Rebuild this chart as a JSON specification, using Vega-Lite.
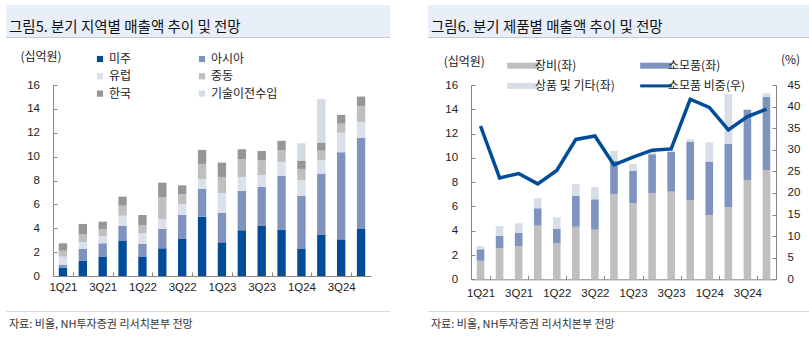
{
  "$schema": "https://vega.github.io/schema/vega-lite/v6.json",
  "background": "white",
  "padding": {"left": 6, "top": 5, "right": 0, "bottom": 0},
  "spacing": 38,
  "resolve": {"scale": {"color": "independent", "x": "independent", "y": "independent"}, "legend": {"color": "independent"}},
  "config": {
    "view": {"stroke": null},
    "font": "Noto Sans CJK KR",
    "title": {"font": "Noto Sans CJK KR", "fontWeight": "normal", "fontSize": 14.5, "color": "#111111"},
    "axis": {"labelFont": "Liberation Sans", "labelFontSize": 11.5, "labelColor": "#222222", "titleFont": "Noto Sans CJK KR", "titleFontSize": 12, "titleFontWeight": "normal", "titleColor": "#222222", "domainColor": "#868686", "tickColor": "#868686", "grid": false},
    "legend": {"labelFont": "Noto Sans CJK KR", "labelFontSize": 12, "labelColor": "#222222", "padding": 0}
  },
  "hconcat": [
    {
      "spacing": 0,
      "bounds": "flush",
      "vconcat": [
        {"width": 384, "height": 32, "data": {"values": [{}]}, "mark": {"type": "rect", "opacity": 0}, "view": {"fill": "#E9EFF8", "stroke": null},
         "title": {"text": "그림5. 분기 지역별 매출액 추이 및 전망", "anchor": "start", "orient": "top", "baseline": "middle", "offset": -37, "dx": 3}},
        {"width": 384, "height": 1, "data": {"values": [{}]}, "mark": {"type": "rect", "opacity": 0}, "view": {"fill": "#C8C8C8", "stroke": null}},
        {
          "width": 384, "height": 273,
          "data": {"values": [
            {"q":"1Q21","r":"미주","n":1,"v":0.70},{"q":"1Q21","r":"아시아","n":2,"v":0.22},{"q":"1Q21","r":"유럽","n":3,"v":0.70},{"q":"1Q21","r":"중동","n":4,"v":0.50},{"q":"1Q21","r":"한국","n":5,"v":0.62},
            {"q":"2Q21","r":"미주","n":1,"v":1.28},{"q":"2Q21","r":"아시아","n":2,"v":0.98},{"q":"2Q21","r":"유럽","n":3,"v":0.59},{"q":"2Q21","r":"중동","n":4,"v":0.67},{"q":"2Q21","r":"한국","n":5,"v":0.84},
            {"q":"3Q21","r":"미주","n":1,"v":1.59},{"q":"3Q21","r":"아시아","n":2,"v":1.15},{"q":"3Q21","r":"유럽","n":3,"v":0.61},{"q":"3Q21","r":"중동","n":4,"v":0.56},{"q":"3Q21","r":"한국","n":5,"v":0.64},
            {"q":"4Q21","r":"미주","n":1,"v":2.93},{"q":"4Q21","r":"아시아","n":2,"v":1.26},{"q":"4Q21","r":"유럽","n":3,"v":0.87},{"q":"4Q21","r":"중동","n":4,"v":0.84},{"q":"4Q21","r":"한국","n":5,"v":0.75},
            {"q":"1Q22","r":"미주","n":1,"v":1.59},{"q":"1Q22","r":"아시아","n":2,"v":1.09},{"q":"1Q22","r":"유럽","n":3,"v":0.90},{"q":"1Q22","r":"중동","n":4,"v":0.69},{"q":"1Q22","r":"한국","n":5,"v":0.84},
            {"q":"2Q22","r":"미주","n":1,"v":2.32},{"q":"2Q22","r":"아시아","n":2,"v":1.62},{"q":"2Q22","r":"유럽","n":3,"v":0.84},{"q":"2Q22","r":"중동","n":4,"v":1.84},{"q":"2Q22","r":"한국","n":5,"v":1.20},
            {"q":"3Q22","r":"미주","n":1,"v":3.10},{"q":"3Q22","r":"아시아","n":2,"v":2.01},{"q":"3Q22","r":"유럽","n":3,"v":0.92},{"q":"3Q22","r":"중동","n":4,"v":0.84},{"q":"3Q22","r":"한국","n":5,"v":0.73},
            {"q":"4Q22","r":"미주","n":1,"v":4.97},{"q":"4Q22","r":"아시아","n":2,"v":2.35},{"q":"4Q22","r":"유럽","n":3,"v":0.81},{"q":"4Q22","r":"중동","n":4,"v":1.26},{"q":"4Q22","r":"한국","n":5,"v":1.17},
            {"q":"1Q23","r":"미주","n":1,"v":2.82},{"q":"1Q23","r":"아시아","n":2,"v":2.49},{"q":"1Q23","r":"유럽","n":3,"v":1.65},{"q":"1Q23","r":"중동","n":4,"v":1.34},{"q":"1Q23","r":"한국","n":5,"v":1.20},
            {"q":"2Q23","r":"미주","n":1,"v":3.83},{"q":"2Q23","r":"아시아","n":2,"v":3.29},{"q":"2Q23","r":"유럽","n":3,"v":1.18},{"q":"2Q23","r":"중동","n":4,"v":1.48},{"q":"2Q23","r":"한국","n":5,"v":0.84},
            {"q":"3Q23","r":"미주","n":1,"v":4.19},{"q":"3Q23","r":"아시아","n":2,"v":3.27},{"q":"3Q23","r":"유럽","n":3,"v":1.01},{"q":"3Q23","r":"중동","n":4,"v":1.23},{"q":"3Q23","r":"한국","n":5,"v":0.78},
            {"q":"4Q23","r":"미주","n":1,"v":3.86},{"q":"4Q23","r":"아시아","n":2,"v":4.52},{"q":"4Q23","r":"유럽","n":3,"v":1.18},{"q":"4Q23","r":"중동","n":4,"v":0.97},{"q":"4Q23","r":"한국","n":5,"v":0.79},
            {"q":"1Q24","r":"미주","n":1,"v":2.26},{"q":"1Q24","r":"아시아","n":2,"v":4.45},{"q":"1Q24","r":"유럽","n":3,"v":1.31},{"q":"1Q24","r":"중동","n":4,"v":0.95},{"q":"1Q24","r":"한국","n":5,"v":0.70},{"q":"1Q24","r":"기술이전수입","n":6,"v":1.45},
            {"q":"2Q24","r":"미주","n":1,"v":3.44},{"q":"2Q24","r":"아시아","n":2,"v":5.14},{"q":"2Q24","r":"유럽","n":3,"v":1.14},{"q":"2Q24","r":"중동","n":4,"v":0.78},{"q":"2Q24","r":"한국","n":5,"v":0.68},{"q":"2Q24","r":"기술이전수입","n":6,"v":3.63},
            {"q":"3Q24","r":"미주","n":1,"v":3.07},{"q":"3Q24","r":"아시아","n":2,"v":7.30},{"q":"3Q24","r":"유럽","n":3,"v":1.64},{"q":"3Q24","r":"중동","n":4,"v":0.76},{"q":"3Q24","r":"한국","n":5,"v":0.73},
            {"q":"4Q24","r":"미주","n":1,"v":3.94},{"q":"4Q24","r":"아시아","n":2,"v":7.65},{"q":"4Q24","r":"유럽","n":3,"v":1.32},{"q":"4Q24","r":"중동","n":4,"v":1.34},{"q":"4Q24","r":"한국","n":5,"v":0.78}
          ]},
          "mark": {"type": "bar"},
          "encoding": {
            "x": {"field": "q", "type": "ordinal", "sort": null,
                  "scale": {"range": [47, 365], "paddingInner": 0.58, "paddingOuter": 0.29},
                  "axis": {"title": null, "orient": "bottom", "offset": -35, "values": ["1Q21","3Q21","1Q22","3Q22","1Q23","3Q23","1Q24","3Q24"], "labelAngle": 0, "tickSize": -4, "tickOffset": 9.94, "labelOffset": -9.94, "labelPadding": 9}},
            "y": {"field": "v", "type": "quantitative", "stack": "zero",
                  "scale": {"domain": [0, 16], "range": [238, 47], "nice": false, "zero": true},
                  "axis": {"orient": "left", "offset": -47, "values": [0,2,4,6,8,10,12,14,16], "tickSize": -4, "labelPadding": 17.5,
                           "title": "(십억원)", "titleAngle": 0, "titleAlign": "center", "titleBaseline": "middle", "titleX": -12.5, "titleY": 18.7}},
            "order": {"field": "n", "type": "quantitative", "sort": "ascending"},
            "color": {"field": "r", "type": "nominal", "sort": ["미주","아시아","유럽","중동","한국","기술이전수입"],
                      "scale": {"domain": ["미주","아시아","유럽","중동","한국","기술이전수입"], "range": ["#004C99","#7F93BF","#DBE1EA","#BFBFBF","#969696","#D3DBE6"]},
                      "legend": {"title": null, "orient": "none", "direction": "horizontal", "legendX": 88, "legendY": 48, "columns": 2, "columnPadding": 64, "rowPadding": 5.3, "symbolType": "square", "symbolSize": 38, "labelOffset": 3}}
          }
        },
        {"width": 384, "height": 1, "data": {"values": [{}]}, "mark": {"type": "rect", "opacity": 0}, "view": {"fill": "#D9D9D9", "stroke": null},
         "title": {"text": "자료: 비올, NH투자증권 리서치본부 전망", "anchor": "start", "orient": "bottom", "baseline": "middle", "offset": 13, "dx": 3, "fontSize": 11, "color": "#333333"}}
      ]
    },
    {
      "spacing": 0,
      "bounds": "flush",
      "vconcat": [
        {"width": 381, "height": 32, "data": {"values": [{}]}, "mark": {"type": "rect", "opacity": 0}, "view": {"fill": "#E9EFF8", "stroke": null},
         "title": {"text": "그림6. 분기 제품별 매출액 추이 및 전망", "anchor": "start", "orient": "top", "baseline": "middle", "offset": -37, "dx": 3}},
        {"width": 381, "height": 1, "data": {"values": [{}]}, "mark": {"type": "rect", "opacity": 0}, "view": {"fill": "#C8C8C8", "stroke": null}},
        {
          "width": 381, "height": 273,
          "encoding": {
            "x": {"field": "q", "type": "ordinal", "sort": null,
                  "scale": {"range": [43, 348], "paddingInner": 0.6, "paddingOuter": 0.3},
                  "axis": {"title": null, "orient": "bottom", "offset": -31.7, "values": ["1Q21","3Q21","1Q22","3Q22","1Q23","3Q23","1Q24","3Q24"], "labelAngle": 0, "tickSize": -4, "tickOffset": 9.53, "labelOffset": -9.53, "labelPadding": 12}}
          },
          "layer": [
            {
              "data": {"values": [
                {"q":"1Q21","k":"장비(좌)","v":1.53},{"q":"1Q21","k":"소모품(좌)","v":0.94},{"q":"1Q21","k":"상품 및 기타(좌)","v":0.27},
                {"q":"2Q21","k":"장비(좌)","v":2.58},{"q":"2Q21","k":"소모품(좌)","v":1.01},{"q":"2Q21","k":"상품 및 기타(좌)","v":0.80},
                {"q":"3Q21","k":"장비(좌)","v":2.74},{"q":"3Q21","k":"소모품(좌)","v":1.10},{"q":"3Q21","k":"상품 및 기타(좌)","v":0.77},
                {"q":"4Q21","k":"장비(좌)","v":4.42},{"q":"4Q21","k":"소모품(좌)","v":1.43},{"q":"4Q21","k":"상품 및 기타(좌)","v":0.82},
                {"q":"1Q22","k":"장비(좌)","v":2.97},{"q":"1Q22","k":"소모품(좌)","v":1.20},{"q":"1Q22","k":"상품 및 기타(좌)","v":0.94},
                {"q":"2Q22","k":"장비(좌)","v":4.33},{"q":"2Q22","k":"소모품(좌)","v":2.53},{"q":"2Q22","k":"상품 및 기타(좌)","v":0.99},
                {"q":"3Q22","k":"장비(좌)","v":4.09},{"q":"3Q22","k":"소모품(좌)","v":2.50},{"q":"3Q22","k":"상품 및 기타(좌)","v":1.01},
                {"q":"4Q22","k":"장비(좌)","v":7.03},{"q":"4Q22","k":"소모품(좌)","v":2.71},{"q":"4Q22","k":"상품 및 기타(좌)","v":0.83},
                {"q":"1Q23","k":"장비(좌)","v":6.28},{"q":"1Q23","k":"소모품(좌)","v":2.67},{"q":"1Q23","k":"상품 및 기타(좌)","v":0.55},
                {"q":"2Q23","k":"장비(좌)","v":7.11},{"q":"2Q23","k":"소모품(좌)","v":3.19},{"q":"2Q23","k":"상품 및 기타(좌)","v":0.41},
                {"q":"3Q23","k":"장비(좌)","v":7.22},{"q":"3Q23","k":"소모품(좌)","v":3.29},{"q":"3Q23","k":"상품 및 기타(좌)","v":0.12},
                {"q":"4Q23","k":"장비(좌)","v":6.53},{"q":"4Q23","k":"소모품(좌)","v":4.78},{"q":"4Q23","k":"상품 및 기타(좌)","v":0.22},
                {"q":"1Q24","k":"장비(좌)","v":5.30},{"q":"1Q24","k":"소모품(좌)","v":4.39},{"q":"1Q24","k":"상품 및 기타(좌)","v":1.59},
                {"q":"2Q24","k":"장비(좌)","v":5.93},{"q":"2Q24","k":"소모품(좌)","v":5.22},{"q":"2Q24","k":"상품 및 기타(좌)","v":4.11},
                {"q":"3Q24","k":"장비(좌)","v":8.18},{"q":"3Q24","k":"소모품(좌)","v":5.77},{"q":"3Q24","k":"상품 및 기타(좌)","v":0.08},
                {"q":"4Q24","k":"장비(좌)","v":9.00},{"q":"4Q24","k":"소모품(좌)","v":6.04},{"q":"4Q24","k":"상품 및 기타(좌)","v":0.28}
              ]},
              "mark": {"type": "bar"},
              "encoding": {
                "y": {"field": "v", "type": "quantitative", "stack": "zero",
                      "scale": {"domain": [0, 16], "range": [241.3, 47], "nice": false},
                      "axis": {"orient": "left", "offset": -43, "values": [0,2,4,6,8,10,12,14,16], "tickSize": -4, "labelPadding": 17.4,
                               "title": "(십억원)", "titleAngle": 0, "titleAlign": "center", "titleBaseline": "middle", "titleX": -7.2, "titleY": 23.7}},
                "order": {"field": "k", "type": "nominal", "sort": "descending"},
                "color": {"field": "k", "type": "nominal", "sort": ["장비(좌)","소모품(좌)","상품 및 기타(좌)","소모품 비중(우)"],
                          "scale": {"domain": ["장비(좌)","소모품(좌)","상품 및 기타(좌)","소모품 비중(우)"], "range": ["#BFBFBF","#7F93BF","#D7DEE8","#004C99"]},
                          "legend": {"title": null, "orient": "none", "direction": "horizontal", "legendX": 89, "legendY": 54.7, "columns": 2, "columnPadding": 13, "rowPadding": -3.8, "symbolType": "stroke", "symbolSize": 1000, "symbolStrokeWidth": 6, "labelOffset": 6,
                                     "encode": {"symbols": {"update": {"stroke": {"scale": "color", "field": "value"}, "strokeWidth": {"signal": "datum.value === '소모품 비중(우)' ? 3 : 6"}}}}}}
              }
            },
            {
              "data": {"values": [
                {"q":"1Q21","k":"소모품 비중(우)","p":35.5},{"q":"2Q21","k":"소모품 비중(우)","p":23.5},{"q":"3Q21","k":"소모품 비중(우)","p":24.5},{"q":"4Q21","k":"소모품 비중(우)","p":22.1},
                {"q":"1Q22","k":"소모품 비중(우)","p":25.2},{"q":"2Q22","k":"소모품 비중(우)","p":32.4},{"q":"3Q22","k":"소모품 비중(우)","p":33.2},{"q":"4Q22","k":"소모품 비중(우)","p":26.5},
                {"q":"1Q23","k":"소모품 비중(우)","p":28.3},{"q":"2Q23","k":"소모품 비중(우)","p":29.9},{"q":"3Q23","k":"소모품 비중(우)","p":30.2},{"q":"4Q23","k":"소모품 비중(우)","p":41.7},
                {"q":"1Q24","k":"소모품 비중(우)","p":39.8},{"q":"2Q24","k":"소모품 비중(우)","p":34.6},{"q":"3Q24","k":"소모품 비중(우)","p":37.7},{"q":"4Q24","k":"소모품 비중(우)","p":39.4}
              ]},
              "mark": {"type": "line", "strokeWidth": 3.5},
              "encoding": {
                "y": {"field": "p", "type": "quantitative",
                      "scale": {"domain": [0, 45], "range": [241.3, 47], "nice": false},
                      "axis": {"orient": "right", "offset": -33, "values": [0,5,10,15,20,25,30,35,40,45], "tickSize": -4, "labelPadding": 15,
                               "title": "(%)", "titleAngle": 0, "titleAlign": "center", "titleBaseline": "middle", "titleX": 14, "titleY": 21}},
                "color": {"field": "k", "type": "nominal"}
              }
            }
          ],
          "resolve": {"scale": {"y": "independent"}}
        },
        {"width": 381, "height": 1, "data": {"values": [{}]}, "mark": {"type": "rect", "opacity": 0}, "view": {"fill": "#D9D9D9", "stroke": null},
         "title": {"text": "자료: 비올, NH투자증권 리서치본부 전망", "anchor": "start", "orient": "bottom", "baseline": "middle", "offset": 13, "dx": 3, "fontSize": 11, "color": "#333333"}}
      ]
    }
  ]
}
